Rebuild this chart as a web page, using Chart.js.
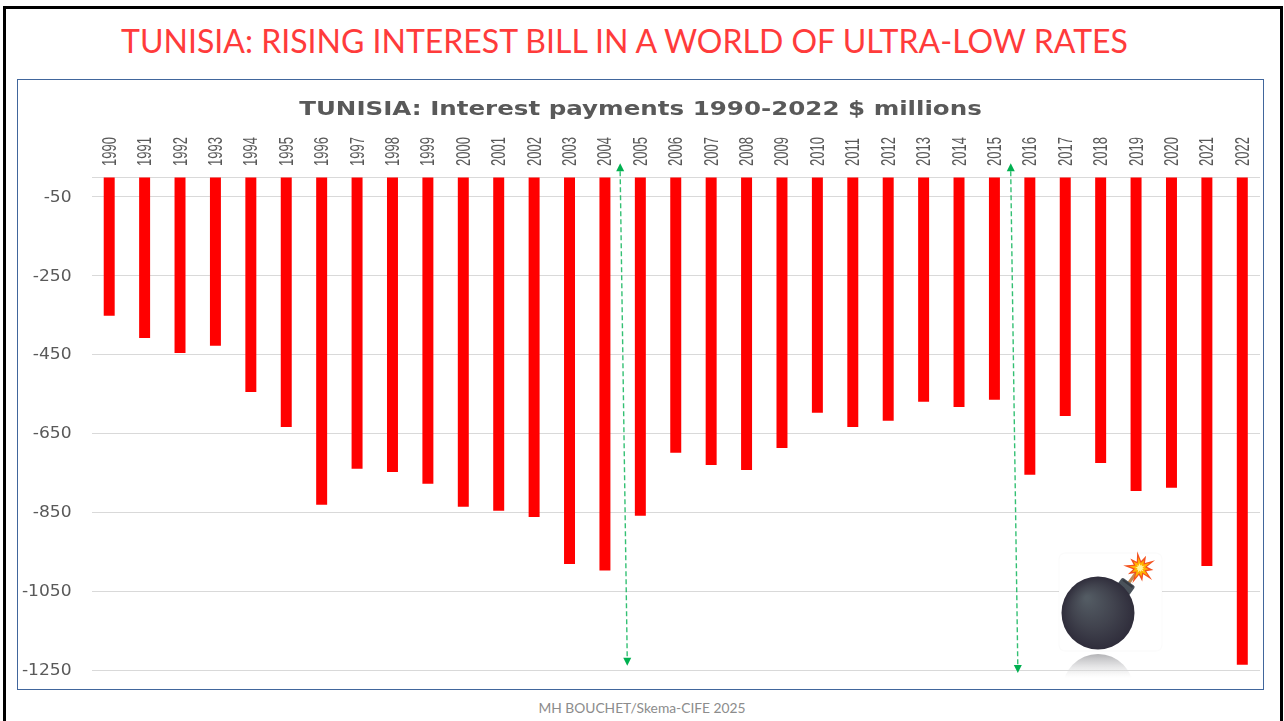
<!DOCTYPE html>
<html><head><meta charset="utf-8">
<script src="https://cdn.jsdelivr.net/npm/chart.js@4"></script>
<style>
html,body{margin:0;padding:0;background:#fff;width:1284px;height:721px;overflow:hidden}
#slide{position:absolute;left:3px;top:6px;width:1274px;height:730px;border:3px solid #000;box-sizing:content-box}
#frame{position:absolute;left:16.5px;top:79px;width:1247px;height:611px;border:1.5px solid #41669C;box-sizing:border-box}
#head{position:absolute;left:0;width:1249px;top:20px;text-align:center;font:33px Lato,sans-serif;color:#FF3B3B;white-space:nowrap;transform:scaleX(0.97);transform-origin:624.5px 0}
#foot{position:absolute;left:0;width:1284px;top:699px;text-align:center;font:13.8px Lato,sans-serif;color:#8c8c8c}
canvas{position:absolute;left:0;top:0}
</style></head><body>
<div id="slide"></div><div id="frame"></div>
<div id="head">TUNISIA: RISING INTEREST BILL IN A WORLD OF ULTRA-LOW RATES</div>
<div id="foot">MH BOUCHET/Skema-CIFE 2025</div>
<canvas id="c" width="1284" height="721"></canvas>
<script>
const years = ['1990','1991','1992','1993','1994','1995','1996','1997','1998','1999','2000','2001','2002','2003','2004','2005','2006','2007','2008','2009','2010','2011','2012','2013','2014','2015','2016','2017','2018','2019','2020','2021','2022'];
const interest = [-352,-408,-446,-428,-545,-634,-831,-740,-748,-778,-836,-846,-862,-981,-998,-859,-699,-730,-743,-687,-598,-634,-618,-570,-583,-565,-755,-606,-725,-796,-788,-986,-1237];
const yTicks = [0,-50,-250,-450,-650,-850,-1050,-1250];
const arrowsX = [[14.43,14.63],[25.46,25.66]];
const arrowsY = [[30,-1237],[30,-1255]];

// The reference picture was stretched, so its text is wider or narrower than any installed font.
function stretched(obj,method,sx,sy,ax,ay,ctxOf,dy=0){
  if(obj['_st'+method])return; obj['_st'+method]=true;
  const orig=obj[method];
  obj[method]=function(...a){
    const ctx=ctxOf();ctx.save();
    ctx.translate(ax,ay+dy);ctx.scale(sx,sy);ctx.translate(-ax,-ay);
    orig.apply(this,a);ctx.restore();
  };
}
function arrowHead(ctx,x,y,dir){
  ctx.fillStyle='#00B050';ctx.beginPath();
  ctx.moveTo(x,y);ctx.lineTo(x-4,y-dir*8);ctx.lineTo(x+4,y-dir*8);ctx.closePath();ctx.fill();
}
const annot = {id:'annot',
 beforeDraw(chart){
  stretched(chart.titleBlock,'draw',1.279,1,592.4,0,()=>chart.ctx);
  chart.scales.x._computeLabelArea=()=>undefined;
  stretched(chart.scales.x,'drawLabels',1,0.65,0,166,()=>chart.ctx);
  stretched(chart.scales.y,'drawLabels',1.14,1,71,0,()=>chart.ctx,1);
 },
 afterDatasetsDraw(chart){
  const {ctx,scales:{x,y}}=chart;
  ctx.save();
  arrowsX.forEach((ax,i)=>{
    const x1=x.getPixelForValue(ax[0]),x2=x.getPixelForValue(ax[1]);
    const y1=y.getPixelForValue(arrowsY[i][0]),y2=y.getPixelForValue(arrowsY[i][1]);
    ctx.strokeStyle='rgba(0,176,80,0.8)';ctx.lineWidth=1.4;ctx.setLineDash([5,3]);
    ctx.beginPath();ctx.moveTo(x1,y1+6);ctx.lineTo(x2,y2-6);ctx.stroke();
    ctx.setLineDash([]);
    arrowHead(ctx,x1,y1-2,-1);arrowHead(ctx,x2,y2+1,1);
  });
  // bomb picture
  const cx=1098,cy=613,r=36.5;
  ctx.fillStyle='#fff';ctx.strokeStyle='rgba(0,0,0,0.015)';ctx.beginPath();ctx.roundRect(1059,553,103,98,6);ctx.fill();ctx.stroke();
  // reflection
  ctx.save();ctx.beginPath();ctx.rect(1059,653,103,26);ctx.clip();
  let rg=ctx.createLinearGradient(0,653,0,678);
  rg.addColorStop(0,'rgba(130,130,135,0.65)');rg.addColorStop(1,'rgba(255,255,255,0.3)');
  ctx.fillStyle=rg;ctx.beginPath();ctx.ellipse(cx,691,36,37,0,0,Math.PI*2);ctx.fill();ctx.restore();
  // fuse
  ctx.strokeStyle='#C08A55';ctx.lineWidth=3;ctx.beginPath();ctx.moveTo(1128,584);ctx.lineTo(1139,569);ctx.stroke();
  // neck
  ctx.save();ctx.translate(1126,586);ctx.rotate(Math.PI/5);
  ctx.fillStyle='#4A525A';ctx.beginPath();ctx.roundRect(-8,-5,16,11,2);ctx.fill();
  ctx.fillStyle='#363A42';ctx.fillRect(-6,-4,12,2);ctx.restore();
  // body
  const g=ctx.createRadialGradient(1087,598,2,cx,cy,r);
  g.addColorStop(0,'#535B63');g.addColorStop(0.55,'#41434E');g.addColorStop(1,'#2F2D3B');
  ctx.fillStyle=g;ctx.beginPath();ctx.arc(cx,cy,r,0,Math.PI*2);ctx.fill();
  // spark
  const star=(R,rr,col)=>{ctx.fillStyle=col;ctx.beginPath();
    for(let k=0;k<20;k++){const a=k*Math.PI/10+0.15,q=k%2?rr:(k%4?R:R*0.8);
      ctx.lineTo(1140+q*Math.cos(a),568+q*Math.sin(a));}
    ctx.closePath();ctx.fill();};
  star(17,7,'#F4511E');star(11,5,'#FFB300');star(5,2.5,'#FFF59D');
  ctx.restore();
}};

new Chart(document.getElementById('c'),{
  type:'bar',
  data:{labels:years,datasets:[{data:interest,backgroundColor:'#FF0000',barPercentage:0.31,categoryPercentage:1}]},
  plugins:[annot],
  options:{
    responsive:false,animation:false,
    layout:{padding:{left:0,right:24,top:0,bottom:51}},
    plugins:{
      legend:{display:false},tooltip:{enabled:false},
      title:{display:true,text:'TUNISIA: Interest payments 1990-2022 $ millions',color:'#595959',
        font:{family:'"DejaVu Sans"',size:19.2,weight:'bold',lineHeight:1.2},padding:{top:98,bottom:11}}
    },
    scales:{
      x:{position:'top',offset:true,
        grid:{display:false,drawTicks:false},border:{display:false},
        afterFit(s){s.height=45;},
        ticks:{minRotation:90,maxRotation:90,autoSkip:false,padding:11,color:'#595959',labelOffset:21,
          font:{family:'"Liberation Sans"',size:20,lineHeight:1}}},
      y:{min:-1250,max:0,
        grid:{color:'#D9D9D9',lineWidth:1,drawTicks:false},border:{display:false},
        afterFit(s){s.width=91.5;},
        afterBuildTicks(s){s.ticks=yTicks.map(v=>({value:v}));},
        ticks:{padding:20,color:'#595959',font:{family:'"DejaVu Sans"',size:15},
          callback:v=>v===0?'':String(v)}}
    }
  }
});
</script>
</body></html>
